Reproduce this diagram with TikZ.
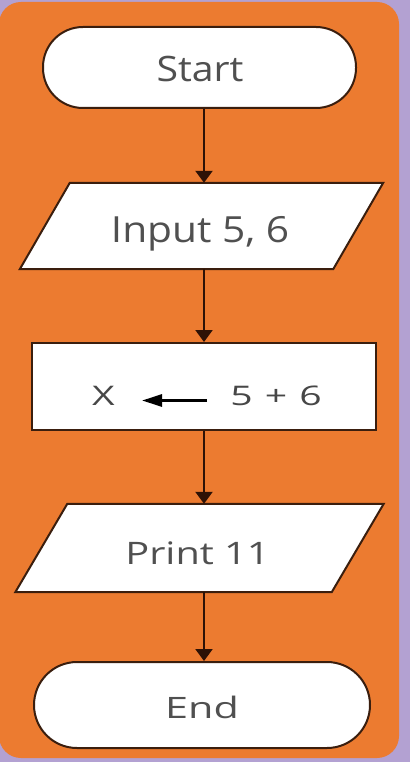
\documentclass[tikz,border=0pt]{standalone}
\usepackage{fontspec}
\setmainfont{Open Sans}
\newfontfamily\fstart[FakeStretch=1.12]{Open Sans}
\newfontfamily\finput[FakeStretch=1.13]{Open Sans}
\newfontfamily\fproc[FakeStretch=1.45]{Open Sans}
\newfontfamily\fprint[FakeStretch=1.28]{Open Sans}
\newfontfamily\fend[FakeStretch=1.4]{Open Sans}
\usetikzlibrary{calc,arrows.meta}
\definecolor{bgpurple}{HTML}{B3A1D2}
\definecolor{bgorange}{HTML}{EC7B30}
\definecolor{edge}{HTML}{3A1E0E}
\definecolor{arrowc}{HTML}{2E1206}
\definecolor{txt}{HTML}{505050}
\tikzset{
  box/.style={draw=edge, line width=2pt, fill=white, inner sep=0pt},
  term/.style={box, rectangle, rounded corners=40pt},
  ioframe/.style={rectangle, inner sep=0pt},
  para/.style={draw=edge, line width=2pt, fill=white, line join=miter},
  lbl/.style={text=txt, inner sep=0pt, anchor=base},
  flow/.style={draw=arrowc, line width=2.2pt, -{Triangle[length=12pt,width=17pt]}},
}
\begin{document}
\begin{tikzpicture}[x=1pt,y=-1pt]
\useasboundingbox (0,0) rectangle (410,762);
\fill[bgpurple] (0,0) rectangle (410,762);
\fill[bgorange, rounded corners=22pt] (-1,2) rectangle (399,758);

\node[term, minimum width=313pt, minimum height=81pt] (start) at (199.5,67.5) {};
\node[lbl, font=\fstart\fontsize{35}{40}\selectfont] (startt) at (200,82) {Start};

\node[ioframe, minimum width=313pt, minimum height=86pt] (in) at (201.5,226) {};
\filldraw[para] ($(in.north west)+(25,0)$) -- ($(in.north east)+(25,0)$) -- ($(in.south east)+(-25,0)$) -- ($(in.south west)+(-25,0)$) -- cycle;
\node[lbl, font=\finput\fontsize{36}{40}\selectfont] (int) at (200,242) {Input 5, 6};

\node[box, rectangle, minimum width=344pt, minimum height=87pt] (proc) at (204,386.5) {};
\node[lbl, text=black!72, font=\fproc\fontsize{27}{32}\selectfont] (px) at (103.5,405) {X};
\node[lbl, text=black!72, font=\fproc\fontsize{27}{32}\selectfont] (p56) at (276,405) {5\hspace{0.45em}+\hspace{0.45em}6};
\coordinate (atail) at (207,400.5);
\coordinate (ahead) at (142,400.5);
\draw[line width=3pt, black, -{Triangle[length=20pt,width=12pt]}] (atail) -- (ahead);

\node[ioframe, minimum width=316pt, minimum height=88pt] (out) at (199.5,548) {};
\filldraw[para] ($(out.north west)+(26,0)$) -- ($(out.north east)+(26,0)$) -- ($(out.south east)+(-26,0)$) -- ($(out.south west)+(-26,0)$) -- cycle;
\node[lbl, font=\fprint\fontsize{31}{36}\selectfont] (outt) at (197.5,564) {Print 11};

\node[term, minimum width=336pt, minimum height=86pt, rounded corners=43pt] (end) at (202,705) {};
\node[lbl, font=\fend\fontsize{29.5}{34}\selectfont] (endt) at (202,718) {End};

\coordinate (ax) at (204,0);
\draw[flow] (start.south -| ax) -- (in.north -| ax);
\draw[flow] (in.south -| ax) -- (proc.north -| ax);
\draw[flow] (proc.south -| ax) -- (out.north -| ax);
\draw[flow] (out.south -| ax) -- (end.north -| ax);
\end{tikzpicture}
\end{document}
